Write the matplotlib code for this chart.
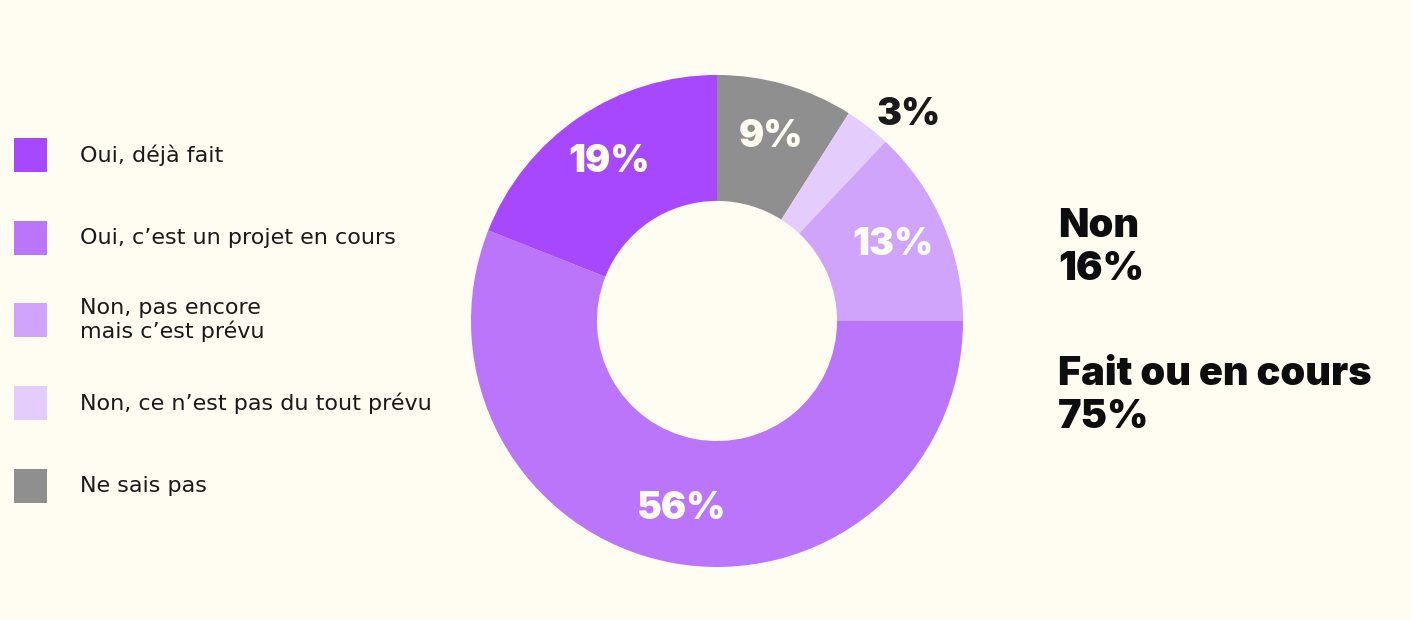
import numpy as np
import matplotlib.pyplot as plt
from matplotlib.patches import Rectangle

# answers, in legend order
labels = ["Oui, déjà fait", "Oui, c’est un projet en cours",
          "Non, pas encore\nmais c’est prévu", "Non, ce n’est pas du tout prévu",
          "Ne sais pas"]
values = [19, 56, 13, 3, 9]
colors = ["#a748fe", "#bb75fa", "#d1a4fb", "#e4cdfd", "#8f8f8f"]

BG = "#fffcf1"
plt.rcParams['font.family'] = ['Inter', 'DejaVu Sans']

fig = plt.figure(figsize=(14.11, 6.2), dpi=100, facecolor=BG)

# donut, drawn clockwise from 12 o'clock starting with "Ne sais pas"
ax = fig.add_axes([0.3338, 0.0855, 0.3487, 0.7936])
ax.set_facecolor(BG)
wedges, _ = ax.pie(values[::-1], colors=colors[::-1], startangle=90,
                   counterclock=False, radius=1,
                   wedgeprops=dict(width=0.512, linewidth=0))
ax.set_xlim(-1, 1)
ax.set_ylim(-1, 1)
ax.set_aspect('equal')
ax.axis('off')

for w, v in zip(wedges, values[::-1]):
    ang = np.deg2rad((w.theta1 + w.theta2) / 2)
    if v < 5:
        # small slice: label outside, dark
        ax.text(1.06 * np.cos(ang), 1.06 * np.sin(ang), f"{v}%", ha='left',
                va='center', color="#1a1a1a", fontsize=27, fontweight='black')
    else:
        ax.text(0.78 * np.cos(ang), 0.78 * np.sin(ang), f"{v}%", ha='center',
                va='center', color=BG, fontsize=27, fontweight='black')

# legend on the left
row_y = [155, 238, 320, 403, 486]
for lab, c, y in zip(labels, colors, row_y):
    fy = 1 - y / 620
    fig.patches.append(Rectangle((14 / 1411, fy - 17 / 620), 33 / 1411, 34 / 620,
                                 transform=fig.transFigure, facecolor=c,
                                 edgecolor='none'))
    fig.text(80 / 1411, fy, lab, ha='left', va='center', fontsize=16,
             family='DejaVu Sans', color="#1a1a1a", linespacing=1.1)

# summary on the right
non = values[2] + values[3]
fait = values[0] + values[1]
fig.text(1058 / 1411, 1 - 248 / 620, f"Non\n{non}%", ha='left', va='center',
         fontsize=28.5, fontweight='black', color="#0d0d0d", linespacing=1.2)
fig.text(1058 / 1411, 1 - 396 / 620, f"Fait ou en cours\n{fait}%", ha='left',
         va='center', fontsize=28.5, fontweight='black', color="#0d0d0d",
         linespacing=1.2)

fig.savefig("out.png", dpi=100, facecolor=BG)
